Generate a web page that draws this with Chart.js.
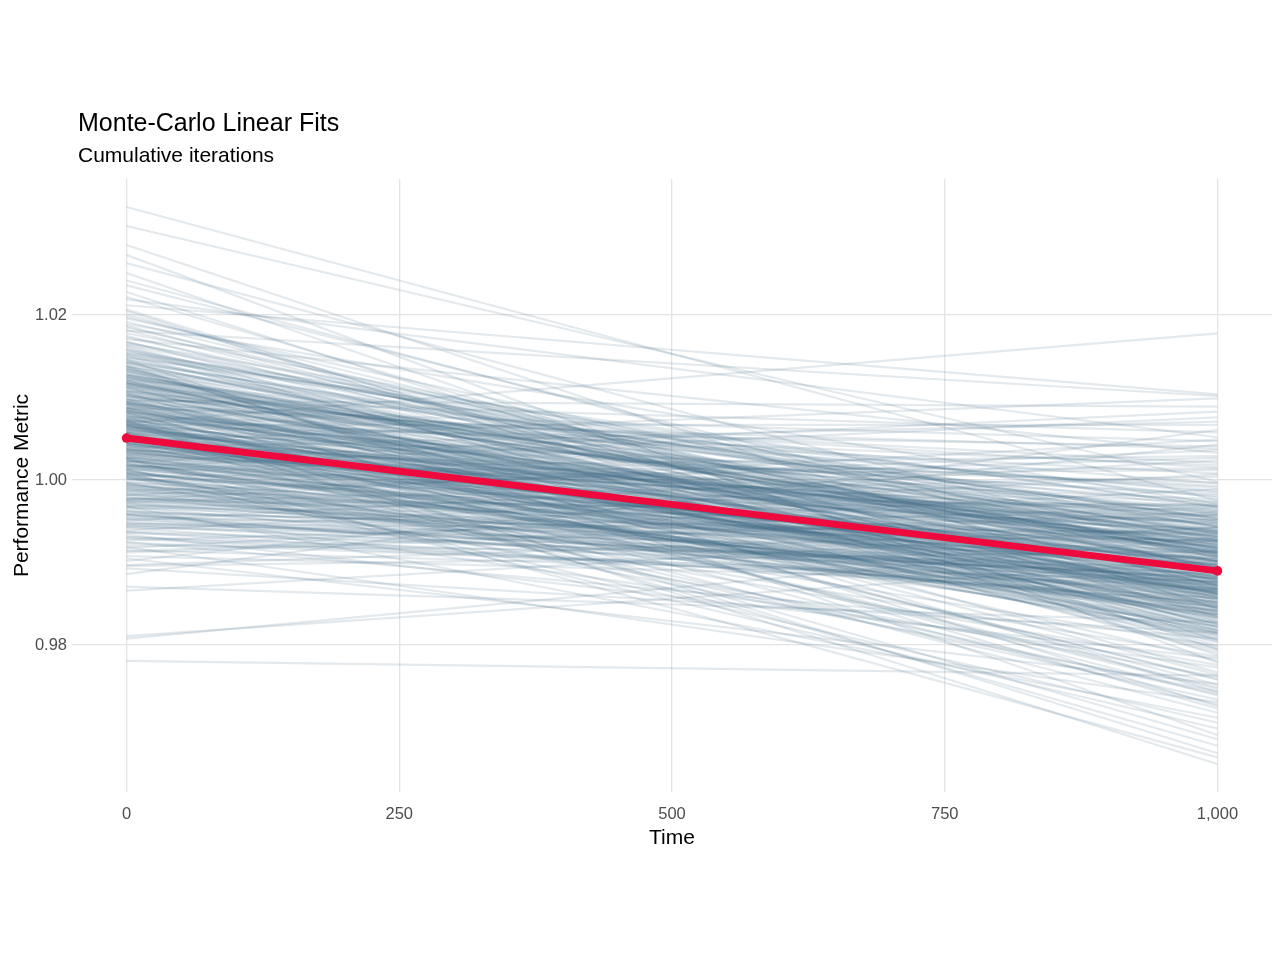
<!DOCTYPE html>
<html><head><meta charset="utf-8">
<script src="https://cdn.jsdelivr.net/npm/chart.js@4.4.1/dist/chart.umd.min.js"></script>
<style>
html,body{margin:0;padding:0;background:#fff;}
#wrap{position:relative;width:1280px;height:960px;overflow:hidden;}
#c{position:absolute;left:0;top:0;}
.t{position:absolute;left:78px;margin:0;font-family:"Liberation Sans",Arial,sans-serif;color:#000;white-space:nowrap;}
#title{top:110px;font-size:25px;line-height:25px;}
#sub{top:144px;font-size:21px;line-height:21px;}
</style></head><body>
<div id="wrap"><canvas id="c" width="1280" height="960"></canvas>
<div id="title" class="t">Monte-Carlo Linear Fits</div>
<div id="sub" class="t">Cumulative iterations</div></div>
<script>
const timePoints = [0, 1000];
const meanFit = [1.0051, 0.9890];
const xTicks = [0, 250, 500, 750, 1000];
const xTickLabels = ['0', '250', '500', '750', '1,000'];
const yTicks = [0.98, 1.00, 1.02];
const yTickLabels = ['0.98', '1.00', '1.02'];

const fitStart = [
1.0062,0.9981,1.0117,1.0154,1.0031,0.9924,1.0089,1.0008,1.0273,1.0046,
0.9997,1.0128,1.0071,0.9943,1.0019,1.0102,1.0185,0.9978,1.0053,1.0094,
1.0036,0.9871,1.0141,1.0067,0.9989,1.0112,1.0025,0.9952,1.0081,1.0168,
1.0009,1.0059,0.9968,1.0133,1.0205,1.0044,0.9915,1.0077,1.0121,0.9993,
1.0104,1.0017,1.0308,0.9936,1.0058,1.0149,1.0003,1.0085,0.9974,1.0039,
1.0125,0.9959,1.0072,1.0012,1.0196,1.0048,0.9897,1.0096,1.0027,1.0139,
0.9986,1.0064,1.0113,0.9931,1.0041,1.0175,1.0005,1.0083,0.9962,1.0228,
1.0051,1.0108,0.9994,1.0146,1.0022,0.9908,1.0069,1.0131,1.0014,1.0087,
0.9978,1.0035,1.0159,1.0074,0.9811,1.0099,1.0043,0.9947,1.0118,1.0061,
1.0024,1.0212,0.9969,1.0056,1.0107,1.0001,0.9925,1.0091,1.0137,1.0033,
1.0079,0.9983,1.0122,1.0047,1.0163,0.9954,1.0015,1.0068,1.0251,1.0098,
1.0011,1.0143,0.9938,1.0057,1.0084,0.9991,1.0115,1.0029,0.9886,1.0072,
1.0127,1.0042,0.9975,1.0189,1.0066,1.0006,0.9957,1.0093,1.0038,1.0151,
0.9964,1.0076,1.0021,1.0111,0.9919,1.0052,1.0134,1.0002,1.0087,1.0331,
1.0045,0.9996,1.0158,1.0063,0.9946,1.0101,1.0018,1.0081,1.0124,0.9972,
1.0092,1.0034,0.9902,1.0119,1.0055,1.0201,0.9985,1.0066,1.0013,1.0144,
1.0026,1.0088,1.0049,0.9958,1.0136,1.0007,1.0073,0.9929,1.0105,1.0182,
1.0058,0.9979,1.0121,1.0032,1.0242,1.0069,0.9948,1.0097,1.0016,1.0084,
0.9992,1.0147,1.0061,1.0004,0.9893,1.0114,1.0043,1.0078,0.9966,1.0129,
1.0037,1.0094,0.9976,1.0171,1.0052,1.0019,0.9934,1.0108,1.0065,1.0028,
1.0116,1.0047,0.9988,1.0083,1.0139,0.9953,1.0023,1.0219,1.0071,1.0009,
0.9961,1.0102,1.0039,1.0152,1.0074,0.9918,1.0058,0.9997,1.0126,1.0086,
1.0031,1.0069,1.0067,1.0118,1.0005,1.0164,0.9973,1.0049,1.0095,1.0027,
1.0135,1.0054,0.9944,1.0079,1.0013,1.0106,1.0192,0.9982,1.0041,1.0062,
1.0088,1.0001,1.0125,0.9927,1.0045,1.0068,0.9959,1.0142,1.0022,1.0285,
1.0015,1.0099,1.0036,0.9971,1.0157,1.0072,1.0008,0.9905,1.0113,1.0051,
1.0076,0.9995,1.0131,1.0043,1.0064,0.9937,1.0178,1.0027,1.0091,0.9968,
1.0103,1.0048,0.9984,1.0122,1.0017,1.0207,1.0059,0.9951,1.0085,1.0034,
0.9942,1.0069,1.0146,1.0072,1.0093,0.9781,1.0038,1.0117,1.0056,0.9989,
1.0128,1.0021,1.0075,1.0167,0.9963,1.0044,1.0098,1.0011,1.0236,1.0066,
0.9977,1.0109,1.0052,0.9921,1.0138,1.0029,1.0082,0.9998,1.0155,1.0047,
1.0063,1.0014,1.0187,1.0095,0.9955,1.0071,1.0119,1.0037,0.9912,1.0088,
1.0024,1.0132,0.9982,1.0057,1.0104,0.9808,1.0046,1.0173,1.0009,1.0078,
1.0143,0.9967,1.0035,1.0112,1.0068,0.9939,1.0024,1.0263,1.0091,1.0053,
1.0002,1.0084,1.0149,0.9973,1.0039,1.0127,0.9896,1.0061,1.0018,1.0106,
1.0073,0.9949,1.0115,1.0031,1.0198,1.0054,0.9987,1.0096,1.0134,1.0012,
1.0042,1.0166,0.9958,1.0081,1.0026,1.0109,0.9931,1.0064,1.0222,0.9994,
1.0087,1.0033,1.0124,0.9976,1.0059,1.0153,1.0007,0.9914,1.0102,1.0045,
1.0019,1.0137,1.0066,0.9991,1.0082,0.9945,1.0181,1.0048,1.0117,0.9866,
1.0057,1.0094,1.0028,1.0161,0.9969,1.0075,1.0121,1.0004,1.0036,1.0092
];

const fitEnd = [
0.9897,0.9842,0.9931,0.9968,0.9815,0.9876,1.0021,0.9903,0.9779,0.9859,
0.9924,0.9861,0.9749,0.9912,0.9836,0.9985,0.9888,0.9958,0.9809,0.9873,
0.9946,0.9828,0.9894,1.0067,0.9853,0.9917,0.9734,0.9881,0.9962,0.9839,
0.9902,0.9993,0.9847,0.9869,0.9788,0.9925,0.9878,1.0038,0.9821,0.9909,
0.9866,0.9939,0.9998,0.9892,0.9718,0.9951,0.9884,0.9834,1.0004,0.9871,
0.9918,0.9851,0.9974,0.9799,0.9906,0.9863,0.9942,1.0089,0.9827,0.9895,
0.9838,0.9913,0.9764,0.9887,0.9956,0.9845,1.0012,0.9879,0.9921,0.9806,
0.9883,0.9967,0.9856,0.9691,0.9928,0.9874,0.9817,0.9949,0.9891,1.0047,
0.9933,0.9824,0.9901,0.9862,0.9902,0.9752,0.9894,0.9937,0.9848,0.9915,
0.9869,1.0104,0.9926,0.9831,0.9881,0.9963,0.9808,0.9899,0.9743,0.9952,
0.9911,0.9857,0.9979,0.9886,0.9818,0.9934,1.0029,0.9872,0.9795,0.9907,
0.9849,0.9944,0.9893,0.9678,0.9923,0.9865,0.9959,0.9834,1.0061,0.9888,
0.9929,0.9812,0.9897,0.9971,0.9855,0.9776,0.9914,0.9868,0.9947,0.9829,
0.9876,1.0008,0.9841,0.9919,0.9731,0.9893,0.9954,0.9862,0.9901,0.9975,
0.9938,0.9859,0.9803,0.9921,0.9877,0.9996,0.9846,0.9759,0.9908,0.9885,
0.9862,0.9927,1.0043,0.9851,0.9896,0.9822,0.9969,0.9874,0.9706,0.9935,
0.9901,0.9839,0.9948,0.9882,0.9791,0.9916,1.0018,0.9866,0.9931,0.9854,
0.9943,0.9873,0.9826,0.9961,0.9889,0.9747,0.9905,0.9858,1.0076,0.9922,
0.9846,0.9909,0.9981,0.9867,0.9815,0.9939,0.9891,0.9669,0.9926,0.9878,
0.9957,0.9832,0.9898,1.0033,0.9864,0.9912,0.9784,0.9945,0.9871,0.9903,
0.9887,0.9964,0.9843,0.9919,0.9726,0.9881,0.9937,1.0052,0.9852,0.9911,
0.9924,0.9807,0.9892,0.9953,0.9868,0.9989,0.9836,0.9762,0.9914,0.9876,
0.9899,1.0178,0.9859,0.9932,0.9823,0.9906,0.9971,0.9848,0.9893,0.9741,
0.9863,0.9941,0.9884,0.9816,1.0014,0.9927,0.9872,0.9952,0.9837,0.9898,
0.9918,0.9856,0.9794,0.9967,0.9889,0.9686,0.9935,0.9878,1.0083,0.9844,
0.9875,0.9913,0.9997,0.9861,0.9928,0.9811,0.9894,0.9753,0.9949,0.9882,
0.9936,0.9868,0.9825,0.9902,1.0041,0.9857,0.9921,0.9973,0.9845,0.9712,
0.9892,0.9959,0.9841,0.9916,0.9876,0.9799,0.9938,1.0024,0.9864,0.9905,
0.9853,0.9926,0.9887,0.9656,0.9944,0.9763,0.9819,0.9912,0.9983,0.9866,
0.9911,0.9838,0.9965,0.9895,0.9773,0.9929,1.0058,0.9852,0.9901,0.9833,
0.9942,0.9879,0.9814,0.9908,0.9862,0.9977,0.9739,0.9891,0.9934,1.0099,
0.9869,0.9922,0.9849,0.9987,0.9881,0.9805,0.9917,0.9864,0.9958,0.9758,
0.9904,0.9836,1.0036,0.9927,0.9873,0.9931,0.9829,0.9893,0.9699,0.9915,
0.9858,0.9951,0.9884,0.9813,0.9932,1.0007,0.9867,0.9909,0.9781,0.9939,
0.9897,0.9844,0.9968,0.9879,1.0071,0.9826,0.9914,0.9861,0.9948,0.9723,
0.9931,0.9887,0.9815,0.9955,0.9872,0.9908,1.0027,0.9842,0.9767,0.9919,
0.9876,0.9943,0.9851,0.9902,0.9664,0.9925,0.9869,0.9991,0.9834,0.9898,
0.9913,0.9822,0.9937,1.0049,0.9866,0.9894,0.9786,0.9961,0.9883,0.9847,
0.9889,0.9953,0.9728,0.9905,0.9841,0.9927,1.0102,0.9871,0.9818,0.9943,
0.9864,0.9918,0.9881,0.9796,0.9969,0.9857,0.9911,0.9744,0.9935,1.0015
];

const RED = '#EE0A3C';
const GREY = 'rgba(70,108,134,0.15)';
const FONT = '"Liberation Sans", Arial, sans-serif';
Chart.defaults.font.family = FONT;

const datasets = [{
  data: timePoints.map((t, i) => ({x: t, y: meanFit[i]})),
  borderColor: RED, backgroundColor: RED, borderWidth: 7,
  pointRadius: 4.8, pointBackgroundColor: RED, pointBorderWidth: 0,
  pointHoverRadius: 0, tension: 0, fill: false
}];
for (let i = 0; i < fitStart.length; i++) {
  datasets.push({
    data: [{x: timePoints[0], y: fitStart[i]}, {x: timePoints[1], y: fitEnd[i]}],
    borderColor: GREY, borderWidth: 2.2, pointRadius: 0, pointHoverRadius: 0,
    tension: 0, fill: false
  });
}

new Chart(document.getElementById('c'), {
  type: 'line',
  data: {datasets},
  options: {
    responsive: false, animation: false, devicePixelRatio: 1,
    layout: {padding: {left: 6, right: 8, top: 179, bottom: 105}},
    plugins: {legend: {display: false}, tooltip: {enabled: false}, title: {display: false}},
    events: [],
    scales: {
      x: {
        type: 'linear', min: -50, max: 1050,
        afterBuildTicks: s => { s.ticks = xTicks.map(v => ({value: v})); },
        afterFit: s => { s.height = 63; },
        ticks: {
          callback: v => xTickLabels[xTicks.indexOf(v)],
          font: {size: 16.5}, color: '#4d4d4d', padding: 13,
          maxRotation: 0, autoSkip: false
        },
        grid: {color: '#e4e4e4', lineWidth: 1.3, drawTicks: false},
        border: {display: false},
        title: {display: true, text: 'Time', font: {size: 21}, color: '#000', padding: {top: 0, bottom: 4}}
      },
      y: {
        type: 'linear', min: 0.9622, max: 1.0365,
        afterBuildTicks: s => { s.ticks = yTicks.map(v => ({value: v})); },
        afterFit: s => { s.width = 66; },
        ticks: {
          callback: v => yTickLabels[yTicks.indexOf(v)],
          font: {size: 16.5}, color: '#4d4d4d', padding: 5, autoSkip: false
        },
        grid: {color: '#e4e4e4', lineWidth: 1.3, drawTicks: false},
        border: {display: false},
        title: {display: true, text: 'Performance Metric', font: {size: 21}, color: '#000', padding: {top: 4, bottom: 0}}
      }
    }
  }
});
</script>
</body></html>
